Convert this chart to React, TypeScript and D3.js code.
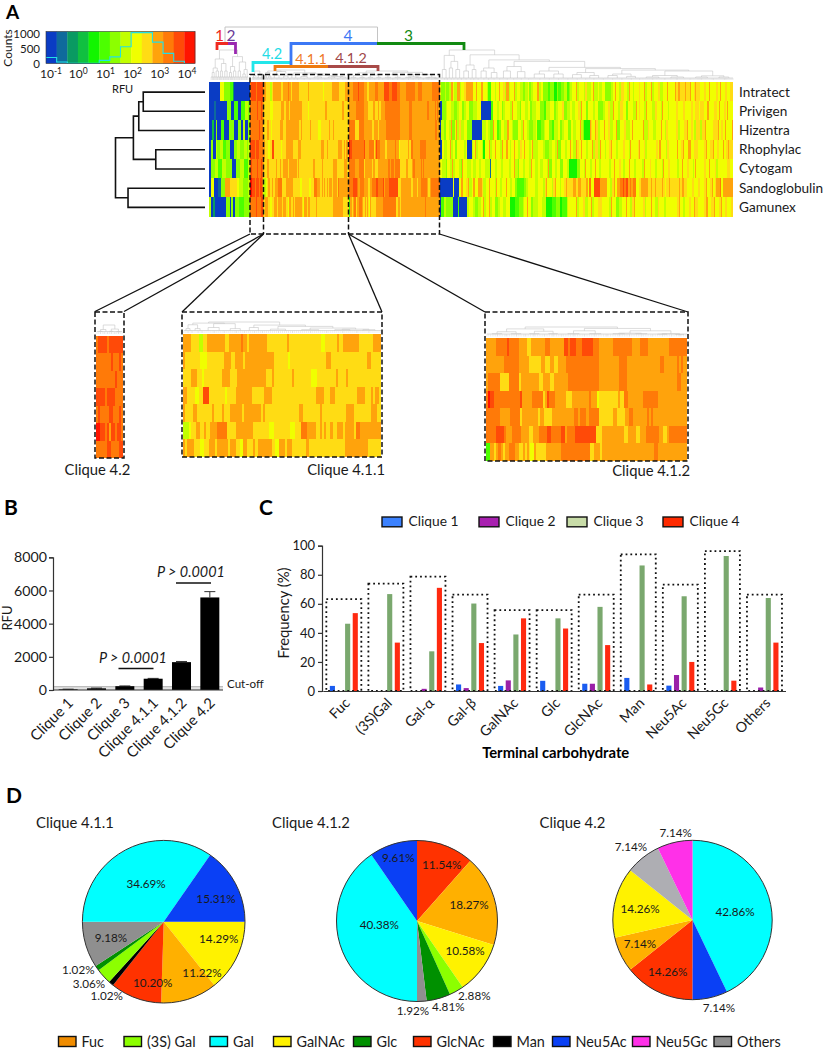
import * as d3 from "d3";
import { useEffect, useRef } from "react";

const FONT = "Lato, sans-serif";

// ===== Heat map data: level + run length, levels are hex digits into levelColors =====
const levelColors = ["#0a3cc4", "#0f6a9c", "#0a9a62", "#10c040", "#12f500", "#4cff00", "#8cff00", "#c2ff00", "#f0ff00", "#ffdc14", "#ffa30c", "#ff7a08", "#ff4a08", "#ff1400"];
const preparations = ["Intratect", "Privigen", "Hizentra", "Rhophylac", "Cytogam", "Sandoglobulin", "Gamunex"];

const heat12 = [
  "013 84 67 53 22 018",
  "06 12 012 65 03 54 04 54 74 62",
  "03 32 02 62 04 53 05 66 04 63 03 72 03 62",
  "03 62 03 72 64 73 54 65 05 63 74 65 73 62 72",
  "03 64 74 55 75 64 63 06 65 74 55 73",
  "03 83 05 14 65 a5 94 95 82 75 66 73",
  "72 03 22 014 65 02 62 03 65 57 65 62",
];
const heat42 = [
  "b1 c5 b1 c7",
  "b8 c1 b3 c1 b1",
  "b10 c1 b3",
  "c5 b1 c4 b4",
  "b1 c1 b5 c2 b3 c1 b1",
  "d2 c3 b1 c1 a1 c2 b1 c2 b1",
  "b6 c2 b4 c2",
];
const heat411 = [
  "a4 94 72 92 a9 92 a6 b1 a2 91 a9 910 a1 916 82 96 a1 92 a8 97 a4",
  "a1 96 83 97 a3 92 a3 91 a12 96 81 915 a2 915 a2 94",
  "94 a3 92 81 99 a4 93 a14 93 a1 99 a1 98 83 99 a1 94 a1 916",
  "a2 94 82 92 c3 98 81 94 a8 96 a4 922 a4 93 a2 911 a4 93 a1 91 a2 91",
  "a1 94 a2 98 a1 94 a1 93 a6 91 a9 91 a1 917 a2 99 a1 912 a4 99 a3 92",
  "73 81 92 a2 92 a1 92 a3 b5 94 a8 98 82 98 82 93 b3 a4 92 a1 91 a1 92 a1 92 a3 91 a4 91 b2 a10",
  "a1 91 a3 93 82 92 a3 91 a5 91 a3 92 81 a2 93 a1 91 a7 91 82 a3 91 a2 97 a1 917 a11 96",
];
const heat412 = [
  "a5 b6 c1 b5 a4 92 a5 a2 b3 a7 c2 b1 c3 b3 c6 b3 a2 a5 b10 a4 b4 a4 a7 b9",
  "a9 b8 a5 96 a2 93 a2 92 a4 b17 a3 a7 b4 a10 a7 b2 a7 b1 a1 b1 a2",
  "a1 b6 95 b5 91 a9 92 a4 92 a7 b16 a10 b4 a26 b2 a3",
  "b1 d1 c2 b12 c1 a5 b5 91 a1 c1 b3 a5 93 a8 b1 a3 81 99 a1 92 b2 a7 b7 a14",
  "b7 a5 b5 91 a8 91 a2 94 a11 b2 a1 b3 a2 b5 97 a2 94 a2 b2 a7 b1 a1 b1 a17",
  "b5 c4 b1 a3 b4 a4 92 a3 b4 c2 b5 c2 a1 b4 c10 91 92 a4 a7 92 a4 92 a3 b6 a2 92 a1 b9",
  "52 a2 91 a1 b2 a1 91 a2 b3 a2 92 a1 91 a1 91 82 a1 95 a8 b15 92 a3 91 a8 a19 b2 a15",
];
const heat3 = [
  "82 64 72 63 72 a2 82 73 a3 72 83 92 a3 a5 84 a1 85 a2 84 72 53 84 72 83 a1 84 92 71 a3 72 84 a2 72 83 74 62 73 82 62 72 85 a2 72 83 65 53 64 43 62 53 64 73 52 61 73 84 a1 73 85 72 92 74 83 a1 74 82 73 84 66 73 82 a1 84 72 93 84 72 a1 83 72 85 92 84 a1 72 85 a1 73 84 92 74 85 a1 84 84 a1 92 a2 96 a1 95 a1 83 92 a1 94 85 92 84 a1 86 93 82 a1 85 92 83 94",
  "03 64 72 84 73 64 72 83 a1 62 72 83 65 74 85 011 53 84 72 84 61 72 82 84 72 a1 85 73 62 84 73 83 62 74 85 64 53 74 85 62 73 84 92 64 73 82 74 83 92 72 a1 84 63 85 72 84 65 73 83 92 74 a1 85 72 93 84 62 85 74 a1 82 92 84 72 a1 86 74 92 84 72 a1 85 71 84 84 93 85 92 a1 86 93 82 94 81 95 84 a2 86 93 82 a1 85 92 81 a1 86",
  "02 73 62 84 72 a1 63 82 a1 72 92 74 83 65 012 74 83 72 63 a1 84 52 62 84 73 a2 83 72 65 84 72 a1 83 73 64 73 82 54 63 72 84 63 53 74 83 62 72 84 64 82 73 85 a1 72 62 46 a1 92 83 a1 92 73 84 a1 84 92 73 84 a1 63 85 92 74 83 a1 86 85 a1 74 92 84 73 86 a1 83 72 92 85 84 92 72 85 93 a1 84 92 81 72 95 72 94 a1 84 83 96 a1 83 92 82 a1 87 a1",
  "03 82 73 84 a1 72 83 62 84 a1 83 72 81 06 71 83 a1 72 84 72 42 85 a1 72 83 a1 85 72 a1 84 a2 82 72 83 a1 84 72 92 83 a1 84 72 82 a1 75 82 84 72 65 73 84 72 a1 64 84 72 a1 83 a1 82 74 a1 92 82 a2 84 72 85 a1 73 93 72 a1 85 71 84 92 a1 84 73 85 a1 92 84 72 a1 82 85 92 a1 84 92 72 85 a1 84 92 82 a2 85 72 92 84 85 a1 84 92 a1 85 a3 84 94 82 85 92 a1 84 93 a1 84 92 85 a1 82 92 a2 94",
  "83 74 62 83 72 a1 73 84 72 62 a1 84 75 82 74 83 72 85 72 73 12 84 72 a1 84 72 84 83 72 84 a1 73 62 84 72 85 72 a1 84 73 82 74 84 72 a1 63 84 72 83 64 84 72 45 45 63 84 72 a1 84 73 83 a1 84 72 85 a1 83 72 84 a1 84 92 83 72 85 a1 84 73 83 84 72 a1 85 92 84 72 86 71 a1 85 92 83 85 72 84 a1 85 92 84 72 81 a1 84 85 92 84 a1 85 92 72 84 a1 85 94 83",
  "015 82 05 83 a2 83 92 a2 73 81 a2 84 a4 92 73 84 a1 85 72 a1 83 72 85 a1 84 72 83 63 58 62 72 83 a1 84 73 82 84 72 92 a1 85 72 92 a1 84 72 83 92 a2 96 a4 92 a3 96 a2 82 b2 83 c7 a7 a1 84 72 92 a1 83 a3 b3 c2 b2 c2 a2 b2 a2 b3 84 92 a4 a4 93 a1 94 a1 92 95 a1 92 82 93 a1 94 96 a1 93 a2 94 85 92 a1 84 92 85 92 a1 84 92 a1 83 91 a4 b1 83 a11",
  "02 53 72 64 63 61 06 51 09 73 84 72 64 73 83 a1 72 84 a1 72 83 64 72 83 a1 73 84 46 55 64 72 83 a1 84 62 72 73 82 83 72 73 46 55 64 43 55 72 84 81 84 a1 72 85 92 73 84 a1 72 85 94 a1 84 84 72 a1 84 64 73 85 a1 84 72 92 a1 85 84 92 72 85 a1 84 73 92 85 72 a1 87 85 92 a1 84 72 85 92 84 a1 93 82 85 92 a2 84 93 a1 85 92 a1 84 92 85 92",
];

// ===== Column dendrograms: [distance, left, right], a plain number is a tuft of that many glycans =====
type TreeNode = number | [number, TreeNode, TreeNode];
const tree12: TreeNode = [1, [0.7, [0.4, [0.25, 3, 2], [0.3, 3, 3]], [0.55, [0.3, 2, 3], [0.3, 3, 3]]], [0.78, [0.45, [0.25, 3, 2], [0.3, 3, 3]], [0.6, [0.3, 3, 3], [0.35, [0.2, 3, 3], 2]]]];
const tree42: TreeNode = [1, [0.5, [0.3, 2, 2], 2], [0.55, [0.3, 2, 2], [0.25, 2, 2]]];
const tree411: TreeNode = [1, [0.9, [0.75, [0.4, 2, 2], [0.4, 3, 2]], [0.85, [0.5, 6, 5], [0.4, 6, 4]]], [0.72, [0.5, 5, 4], [0.6, [0.35, 8, 7], [0.45, [0.3, 9, 8], [0.35, [0.3, 8, 7], [0.3, 6, 6]]]]]];
const tree412: TreeNode = [1, [0.8, [0.5, [0.3, 6, 5], [0.3, 6, 5]], [0.55, [0.3, 5, 6], [0.3, 5, 5]]], [0.85, [0.6, [0.3, 7, 6], [0.3, 6, 7]], [0.6, [0.35, [0.3, 7, 6], [0.3, 7, 6]], [0.3, [0.25, 6, 5], [0.2, 5, 4]]]]];
const tree3: TreeNode = [1,
  [0.82, [0.35, 5, 3], [0.62, [0.4, 4, 3], [0.35, 4, 4]]],
  [0.84, [0.5, [0.3, 5, 5], [0.35, 3, 5]],
    [0.67, [0.4, [0.3, 6, 5], [0.25, 6, 6]],
      [0.62, [0.45, [0.3, 8, 7], [0.28, 8, 8]],
        [0.42, [0.3, [0.2, 12, 10], [0.2, 10, 10]],
          [0.38, [0.25, [0.18, 10, 9], [0.15, 9, 10]],
            [0.33, [0.2, [0.15, 10, 10], [0.12, 10, 9]],
              [0.3, [0.15, [0.1, 14, 13], [0.1, 13, 14]], [0.14, [0.1, 12, 13], [0.1, 12, 9]]]]]]]]]];

// Row dendrogram
const rowTree = { d: 1, children: [
  { d: 0.8, children: [
    { d: 0.74, children: [
      { d: 0.69, children: [{ d: 0, row: "Intratect" }, { d: 0, row: "Privigen" }] },
      { d: 0, row: "Hizentra" },
    ] },
    { d: 0.55, children: [{ d: 0, row: "Rhophylac" }, { d: 0, row: "Cytogam" }] },
  ] },
  { d: 0.86, children: [{ d: 0, row: "Sandoglobulin" }, { d: 0, row: "Gamunex" }] },
] };

// Colour key histogram, one count per colour cell
const histCounts = [190, 50, 8, 8, 8, 100, 210, 530, 980, 980, 680, 320, 70, 0];
const histExponents = [-1, 0, 1, 2, 3, 4];

// ===== Panel B =====
const barCliques = ["Clique 1", "Clique 2", "Clique 3", "Clique 4.1.1", "Clique 4.1.2", "Clique 4.2"];
const barMeans = [40, 100, 230, 680, 1680, 5580];
const barErrors = [10, 15, 15, 20, 40, 350];
const rfuTicks = [0, 2000, 4000, 6000, 8000];
const cutOff = 200;

// ===== Panel C =====
const carbohydrates = ["Fuc", "(3S)Gal", "Gal-α", "Gal-β", "GalNAc", "Glc", "GlcNAc", "Man", "Neu5Ac", "Neu5Gc", "Others"];
const cliques = ["Clique 1", "Clique 2", "Clique 3", "Clique 4"];
const freqClique1 = [3.5, 0, 0, 4.5, 3.5, 7, 5, 9, 3.7, 0, 0];
const freqClique2 = [0, 0, 1.5, 2, 7.3, 0, 5, 0, 11, 0, 2.4];
const freqClique3 = [46.3, 66.7, 27.3, 60.2, 38.9, 50, 57.9, 86.4, 65.2, 92.9, 64];
const freqClique4 = [53.6, 33.3, 71, 33, 50, 43, 31.6, 4.5, 20, 7.1, 33.3];
const freqTotals = [63.3, 73.9, 78.7, 66.3, 55.7, 55.7, 66.3, 94, 73.2, 96.3, 66.3];
const barColors = ["#1a5cf0", "#9a20a8", "#7aa86e", "#ff2a10"];
const keyColors = ["#3c82ff", "#a820b0", "#c8dca8", "#ff2a00"];

// ===== Panel D =====
const pieColors: Record<string, string> = {
  Fuc: "#ffb000", "(3S) Gal": "#8cff00", Gal: "#00ffff", GalNAc: "#fff200", Glc: "#009000",
  GlcNAc: "#ff3200", Man: "#000000", Neu5Ac: "#0a40f5", Neu5Gc: "#ff30e8", Others: "#8f8f8f",
};
const pie411Names = ["GalNAc", "Fuc", "GlcNAc", "Man", "(3S) Gal", "Glc", "Others", "Gal", "Neu5Ac"];
const pie411Values = [14.29, 11.22, 10.2, 1.02, 3.06, 1.02, 9.18, 34.69, 15.31];
const pie411Offsets = [[55, 17.3], [38.3, 51], [-11, 61], [-57, 74.3], [-74.7, 62.3], [-85.4, 48.3], [-52.7, 16], [-17.7, -38], [52.3, -22.7]];
const pie412Names = ["GlcNAc", "Fuc", "GalNAc", "(3S) Gal", "Glc", "Others", "Gal", "Neu5Ac"];
const pie412Values = [11.54, 18.27, 10.58, 2.88, 4.81, 1.92, 40.38, 9.61];
const pie412Offsets = [[24.7, -56], [52, -15.7], [48, 30], [57.3, 75], [31.3, 86.3], [-4, 89.7], [-37.7, 4], [-18.7, -62.7]];
const pie42Names = ["Gal", "Neu5Ac", "GlcNAc", "Fuc", "GalNAc", "Others", "Neu5Gc"];
const pie42Values = [42.86, 7.14, 14.26, 7.14, 14.26, 7.14, 7.14];
const pie42Offsets = [[42.5, -8.3], [26.5, 88], [-24.8, 51.7], [-52.5, 24.3], [-52.5, -11], [-61.5, -73.3], [-16.8, -87.3]];
const keyNames = ["Fuc", "(3S) Gal", "Gal", "GalNAc", "Glc", "GlcNAc", "Man", "Neu5Ac", "Neu5Gc", "Others"];
const keyLefts = [58.5, 124, 210, 273.5, 353.5, 413.5, 493.5, 552.5, 632.5, 714];

type Sel = d3.Selection<any, unknown, null, undefined>;

function addText(g: Sel, x: number, y: number, text: string, size = 13.5, anchor = "start") {
  return g.append("text").attr("x", x).attr("y", y).attr("font-size", size)
    .attr("font-family", FONT).attr("text-anchor", anchor).attr("fill", "#1a1a1a").text(text);
}

function addLine(g: Sel, x1: number, y1: number, x2: number, y2: number, stroke: string, width: number) {
  return g.append("line").attr("x1", x1).attr("y1", y1).attr("x2", x2).attr("y2", y2)
    .attr("stroke", stroke).attr("stroke-width", width);
}

// one rect per run, each row is stretched over the section
function drawHeat(g: Sel, rows: string[], x0: number, x1: number, y0: number, y1: number) {
  const y = d3.scaleBand().domain(preparations).range([y0, y1]);
  rows.forEach((row, i) => {
    const runs = row.split(" ").map((t) => ({ level: parseInt(t[0], 16), n: +t.slice(1) }));
    const x = d3.scaleLinear().domain([0, d3.sum(runs, (r) => r.n)]).range([x0, x1]);
    let at = 0;
    runs.forEach((r) => {
      g.append("rect").attr("x", x(at)).attr("y", y(preparations[i])!)
        .attr("width", x(at + r.n) - x(at) + 0.3).attr("height", y.bandwidth())
        .attr("fill", levelColors[r.level]).attr("shape-rendering", "crispEdges");
      at += r.n;
    });
  });
}

function drawTree(g: Sel, tree: TreeNode, x0: number, x1: number, base: number, top: number, tuft: number) {
  const root = d3.hierarchy<TreeNode>(tree, (d) => (typeof d === "number" ? null : [d[1], d[2]]));
  const total = d3.sum(root.leaves(), (l) => l.data as number);
  const x = d3.scaleLinear().domain([0, total]).range([x0, x1]);
  const y = d3.scaleLinear().domain([0, 1]).range([base, top]);
  const stroke = "#c4c4c4";
  let at = 0;
  const place = (node: d3.HierarchyNode<TreeNode>): [number, number] => {
    if (typeof node.data === "number") {
      const n = node.data;
      const top2 = base - tuft;
      addLine(g, x(at), top2, x(at + n), top2, stroke, 0.6);
      for (let i = 0; i <= n; i++) addLine(g, x(at + i), top2, x(at + i), base, "#cfcfcf", 0.35);
      const mid = x(at + n / 2);
      at += n;
      return [mid, top2];
    }
    const h = y(node.data[0]);
    const [a, b] = node.children!.map(place);
    addLine(g, a[0], h, b[0], h, stroke, 0.6);
    addLine(g, a[0], h, a[0], a[1], stroke, 0.6);
    addLine(g, b[0], h, b[0], b[1], stroke, 0.6);
    return [(a[0] + b[0]) / 2, h];
  };
  place(root);
}

function dashedBox(g: Sel, x0: number, y0: number, x1: number, y1: number) {
  g.append("rect").attr("x", x0).attr("y", y0).attr("width", x1 - x0).attr("height", y1 - y0)
    .attr("fill", "none").attr("stroke", "#111").attr("stroke-width", 1.5).attr("stroke-dasharray", "5 2.5");
}

function styleAxis(sel: Sel, size: number) {
  sel.selectAll("path,line").attr("stroke", "#333").attr("stroke-width", 1.2);
  sel.selectAll("text").attr("font-family", FONT).attr("font-size", size).attr("fill", "#1a1a1a");
}

function drawPanelA(svg: Sel) {
  const g = svg.append("g");
  addText(g, 6, 18.5, "A", 19).attr("font-weight", 700).attr("fill", "#000");

  // colour key
  const cell = d3.scaleBand<number>().domain(d3.range(levelColors.length)).range([46, 195]);
  const count = d3.scaleLinear().domain([0, 1000]).range([63.5, 32]);
  levelColors.forEach((c, i) => {
    g.append("rect").attr("x", cell(i)!).attr("y", 31.5).attr("width", cell.bandwidth() + 0.3).attr("height", 32).attr("fill", c);
  });
  const histLine = d3.line<number>().x((_, i) => cell(i)!).y((d) => count(d)).curve(d3.curveStepAfter);
  g.append("path").attr("d", histLine([...histCounts, 0])!).attr("fill", "none").attr("stroke", "#22e0e6").attr("stroke-width", 1.1);
  g.append("rect").attr("x", 46).attr("y", 31.5).attr("width", 149).attr("height", 32).attr("fill", "none").attr("stroke", "#333").attr("stroke-width", 0.6);
  [[1000, 38], [500, 53], [0, 67.5]].forEach(([v, y]) => addText(g, 40, y, String(v), 11.5, "end"));
  addText(g, 0, 0, "Counts", 12, "middle").attr("transform", "translate(11.5,48) rotate(-90)");
  const rfu = d3.scaleLog().domain([0.1, 10000]).range([51, 187]);
  histExponents.forEach((e) => {
    const t = addText(g, rfu(Math.pow(10, e)), 78, "10", 12, "middle");
    t.append("tspan").attr("dy", -4.5).attr("font-size", 8.5).text(String(e));
  });
  addText(g, 112, 93, "RFU", 11);

  // row dendrogram
  const y = d3.scaleBand().domain(preparations).range([82, 216.5]);
  const dist = d3.scaleLinear().domain([0, 1]).range([205, 115.5]);
  const rootRow = d3.hierarchy<any>(rowTree);
  const rowY = (n: d3.HierarchyNode<any>): number =>
    n.children ? d3.mean(n.children.map(rowY))! : y(n.data.row)! + y.bandwidth() / 2 + 0.5;
  rootRow.descendants().filter((n) => n.children).forEach((n) => {
    const [a, b] = n.children!;
    const p = d3.path();
    p.moveTo(dist(a.data.d), rowY(a));
    p.lineTo(dist(n.data.d), rowY(a));
    p.lineTo(dist(n.data.d), rowY(b));
    p.lineTo(dist(b.data.d), rowY(b));
    g.append("path").attr("d", p.toString()).attr("fill", "none").attr("stroke", "#111").attr("stroke-width", 1.6);
  });

  // main heat map, section by section
  drawHeat(g, heat12, 209, 250, 82, 216.5);
  drawHeat(g, heat42, 250, 263, 82, 216.5);
  drawHeat(g, heat411, 263, 348.5, 82, 216.5);
  drawHeat(g, heat412, 348.5, 439.5, 82, 216.5);
  drawHeat(g, heat3, 439.5, 733, 82, 216.5);
  preparations.forEach((p) => addText(g, 739, y(p)! + y.bandwidth() / 2 + 5, p, 13.6));

  drawTree(g, tree12, 211, 248, 80, 50, 3);
  drawTree(g, tree42, 252, 263, 80, 71, 2);
  drawTree(g, tree411, 264, 348, 80, 70, 2);
  drawTree(g, tree412, 349, 439, 80, 71, 2);
  drawTree(g, tree3, 440, 733, 80, 50, 2);

  // clique brackets
  g.append("path").attr("d", "M225,43V27H377.5V43").attr("fill", "none").attr("stroke", "#c4c4c4").attr("stroke-width", 1);
  const bracket = (d: string, c: string) => g.append("path").attr("d", d).attr("fill", "none").attr("stroke", c).attr("stroke-width", 2.8);
  bracket("M217,50V43.5H228", "#f02a20");
  bracket("M228,43.5H235.5V54", "#9a28b0");
  bracket("M253,72V62.5H291", "#22e6ea");
  bracket("M291,65V43.5H377", "#3c78f5");
  bracket("M377,43.5H464V50", "#128a12");
  bracket("M275,71V66.5H328", "#ee7a10");
  bracket("M328,66.5H378V71", "#a84a48");
  [["1", 219.5, 41, "#ee2a20", 15.5], ["2", 231, 41, "#6a3a98", 15.5], ["4.2", 272, 59, "#22dce6", 14.5], ["4.1.1", 311, 63.5, "#ee7a28", 14.3], ["4.1.2", 351, 63, "#a0484a", 14.3], ["4", 348, 41, "#3c78f5", 15.5], ["3", 408.5, 41, "#128a12", 15.5]]
    .forEach(([t, x, yy, c, s]) => addText(g, x as number, yy as number, t as string, s as number, "middle").attr("fill", c as string));

  // selection box with its zoom lines
  g.append("rect").attr("x", 250).attr("y", 74.5).attr("width", 189.5).attr("height", 159.5)
    .attr("fill", "none").attr("stroke", "#111").attr("stroke-width", 1.5).attr("stroke-dasharray", "5 2.5");
  [263.5, 348.5].forEach((x) => addLine(g, x, 74.5, x, 234, "#111", 1.5).attr("stroke-dasharray", "5 2.5"));
  [[250, 95], [263.5, 124], [263.5, 182], [348.5, 382], [348.5, 485], [439.5, 688]].forEach(([a, b]) => {
    addLine(g, a, 234, b, b === 95 || b === 124 ? 311.5 : 312, "#111", 1.3);
  });

  // insets share the columns of the main map
  drawHeat(g, heat42, 96, 122.5, 336, 458);
  drawHeat(g, heat411, 183, 381, 334, 457);
  drawHeat(g, heat412, 486, 687, 338, 461);
  drawTree(g, tree42, 97, 122, 334, 325, 2.5);
  drawTree(g, tree411, 184, 381, 333, 322, 2.5);
  drawTree(g, tree412, 487, 687, 336.5, 327, 2.5);
  dashedBox(g, 95, 312, 124, 458);
  dashedBox(g, 182, 312, 382, 457);
  dashedBox(g, 485, 312, 688, 461);
  addText(g, 64.5, 475, "Clique 4.2", 14.8);
  addText(g, 385, 475, "Clique 4.1.1", 14.8, "end");
  addText(g, 690, 476, "Clique 4.1.2", 14.8, "end");
}

function drawPanelB(svg: Sel) {
  const g = svg.append("g");
  addText(g, 4, 515, "B", 21).attr("font-weight", 700).attr("fill", "#000");
  const x = d3.scaleBand().domain(barCliques).range([54, 224]).paddingInner(0.33).paddingOuter(0.165);
  const y = d3.scaleLinear().domain([0, 8000]).range([690, 557.3]);

  g.append("rect").attr("x", 53).attr("y", y(cutOff)).attr("width", 170).attr("height", y(0) - y(cutOff)).attr("fill", "#e2e2e2");
  addLine(g, 53, y(cutOff), 223, y(cutOff), "#b0b0b0", 1);

  barCliques.forEach((c, i) => {
    const cx = x(c)! + x.bandwidth() / 2;
    addLine(g, cx, y(barMeans[i]), cx, y(barMeans[i] + barErrors[i]), "#333", 1);
    addLine(g, cx - 5.5, y(barMeans[i] + barErrors[i]), cx + 5.5, y(barMeans[i] + barErrors[i]), "#333", 1);
    g.append("rect").attr("x", x(c)!).attr("y", y(barMeans[i])).attr("width", x.bandwidth())
      .attr("height", y(0) - y(barMeans[i])).attr("fill", "#000");
  });

  const axisY = g.append("g").attr("transform", "translate(53,0)").call(d3.axisLeft(y).tickValues(rfuTicks).tickFormat(d3.format("d")).tickSize(4).tickPadding(2));
  styleAxis(axisY, 14.2);
  addLine(g, 53, 690, 223, 690, "#333", 1.2);
  barCliques.forEach((c) => {
    const cx = x(c)! + x.bandwidth() / 2;
    addText(g, 0, 0, c, 14.8, "end").attr("transform", `translate(${cx + 6},${704}) rotate(-45)`);
  });
  addText(g, 0, 0, "RFU", 13, "middle").attr("transform", "translate(12,618) rotate(-90)");
  addText(g, 227, 688, "Cut-off", 11.6);

  addText(g, 99, 663, "P > 0.0001", 14.4).attr("font-style", "italic");
  addLine(g, 118.5, 668.5, 153.5, 668.5, "#111", 1.6);
  addText(g, 157, 577, "P > 0.0001", 14.4).attr("font-style", "italic");
  addLine(g, 176, 583, 211, 583, "#111", 1.6);
}

function drawPanelC(svg: Sel) {
  const g = svg.append("g");
  addText(g, 259, 515, "C", 21).attr("font-weight", 700).attr("fill", "#000");
  const x0 = d3.scaleBand().domain(carbohydrates).range([322.8, 785.5]);
  const x1 = d3.scaleBand().domain(cliques).range([0, 28]).paddingInner(0.33);
  const y = d3.scaleLinear().domain([0, 100]).range([691, 545.7]);
  const series = [freqClique1, freqClique2, freqClique3, freqClique4];
  const boxWidth = 35;

  carbohydrates.forEach((c, i) => {
    const left = x0(c)! + x0.bandwidth() / 2 - 14;
    series.forEach((vals, s) => {
      g.append("rect").attr("x", left + x1(cliques[s])!).attr("y", y(vals[i])).attr("width", x1.bandwidth())
        .attr("height", y(0) - y(vals[i])).attr("fill", barColors[s]);
    });
    g.append("rect").attr("x", left + 14 - boxWidth / 2).attr("y", y(freqTotals[i])).attr("width", boxWidth)
      .attr("height", y(0) - y(freqTotals[i])).attr("fill", "none").attr("stroke", "#111")
      .attr("stroke-width", 1.8).attr("stroke-dasharray", "1.8 3");
  });

  const axisY = g.append("g").attr("transform", "translate(322,0)").call(d3.axisLeft(y).ticks(5).tickSize(4).tickPadding(3));
  styleAxis(axisY, 13);
  const axisX = g.append("g").attr("transform", "translate(0,691)").call(d3.axisBottom(x0).tickSize(0).tickFormat(() => ""));
  styleAxis(axisX, 13);
  carbohydrates.forEach((c) => {
    addText(g, 0, 0, c, 14.2, "end").attr("transform", `translate(${x0(c)! + x0.bandwidth() / 2 + 7},${704}) rotate(-45)`);
  });
  addText(g, 0, 0, "Frequency (%)", 14.8, "middle").attr("transform", "translate(289,613) rotate(-90)");
  addText(g, 555.7, 758, "Terminal carbohydrate", 14.8, "middle").attr("font-weight", 700).attr("fill", "#000");

  [382, 479, 567, 663].forEach((left, i) => {
    g.append("rect").attr("x", left).attr("y", 517).attr("width", 20).attr("height", 9.8)
      .attr("fill", keyColors[i]).attr("stroke", "#111").attr("stroke-width", 1.4);
    addText(g, left + 26.5, 526, cliques[i], 13.8);
  });
}

function drawPie(g: Sel, cx: number, cy: number, r: number, names: string[], values: number[], offsets: number[][], startAngle: number, title: string, titleX: number, gray?: string) {
  const pie = d3.pie<number>().sort(null).startAngle(startAngle).endAngle(startAngle + 2 * Math.PI);
  const arc = d3.arc<d3.PieArcDatum<number>>().innerRadius(0).outerRadius(r);
  const p = g.append("g").attr("transform", `translate(${cx},${cy})`);
  p.selectAll("path").data(pie(values)).join("path").attr("d", arc as any)
    .attr("fill", (_, i) => (names[i] === "Others" && gray ? gray : pieColors[names[i]]));
  p.append("circle").attr("r", r).attr("fill", "none").attr("stroke", "#333").attr("stroke-width", 1);
  values.forEach((v, i) => {
    addText(p, offsets[i][0], offsets[i][1] + 4.1, `${v.toFixed(2)}%`, 11.7, "middle");
  });
  addText(g, titleX, 828, title, 14.8);
}

function drawPanelD(svg: Sel) {
  const g = svg.append("g");
  addText(g, 6, 803, "D", 21).attr("font-weight", 700).attr("fill", "#000");
  drawPie(g, 163.7, 921.7, 81.3, pie411Names, pie411Values, pie411Offsets, Math.PI / 2, "Clique 4.1.1", 36);
  drawPie(g, 417, 921, 80.5, pie412Names, pie412Values, pie412Offsets, 0, "Clique 4.1.2", 272);
  drawPie(g, 692.5, 920, 79.7, pie42Names, pie42Values, pie42Offsets, 0, "Clique 4.2", 539.5, "#aeaeb3");
  keyNames.forEach((n, i) => {
    const fill = n === "Fuc" ? "#f08c00" : pieColors[n];
    g.append("rect").attr("x", keyLefts[i]).attr("y", 1036.5).attr("width", 17.5).attr("height", 10)
      .attr("fill", fill).attr("stroke", "#111").attr("stroke-width", 1.4);
    addText(g, keyLefts[i] + 23, 1046.5, n, 14.4);
  });
}

export default function App() {
  const ref = useRef<SVGSVGElement | null>(null);

  useEffect(() => {
    const svg = d3.select(ref.current) as unknown as Sel;
    svg.selectAll("*").remove();
    drawPanelA(svg);
    drawPanelB(svg);
    drawPanelC(svg);
    drawPanelD(svg);
  }, []);

  return (
    <svg
      ref={ref}
      width={823}
      height={1050}
      style={{ position: "absolute", left: 0, top: 0, background: "#fff" }}
    />
  );
}
